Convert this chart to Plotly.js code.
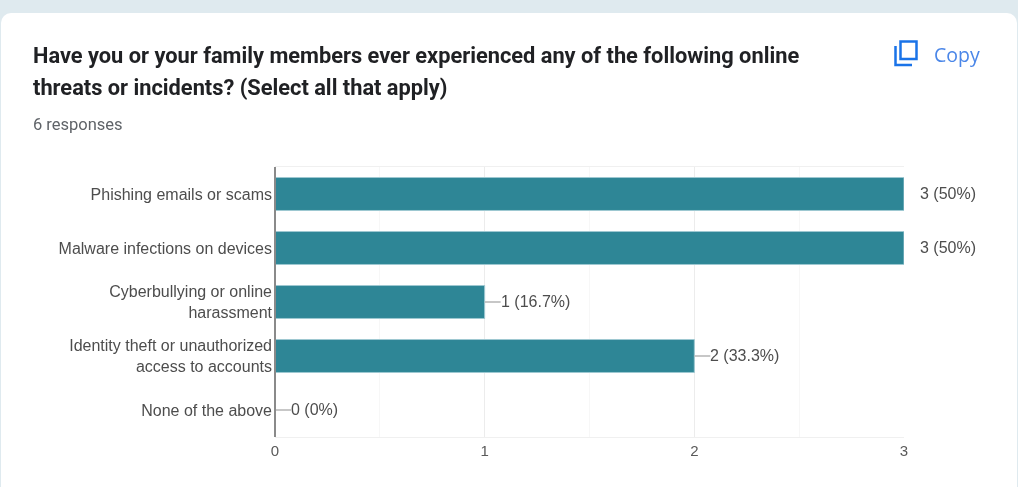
<!DOCTYPE html>
<html><head><meta charset="utf-8">
<script src="https://cdn.plot.ly/plotly-3.0.1.min.js"></script>
<style>
html,body{margin:0;padding:0;width:1018px;height:487px;overflow:hidden;background:#dfeaef}
#card{position:absolute;left:1px;top:13px;width:1016px;height:500px;background:#fff;border-radius:10px}
#chart{position:absolute;left:0;top:0;width:1018px;height:487px;filter:blur(0.5px)}
</style></head><body>
<div id="card"></div><div id="chart"></div>
<script>
const categories=["Phishing emails or scams","Malware infections on devices","Cyberbullying or online<br>harassment","Identity theft or unauthorized<br>access to accounts","None of the above"];
const counts=[3,3,1,2,0];
const percents=["50%","50%","16.7%","33.3%","0%"];
const titleLines=["Have you or your family members ever experienced any of the following online","threats or incidents? (Select all that apply)"];
const subtitle="6 responses";
const copyLabel="Copy";
const W=1018,H=487,L=275,R=904,T=167,B=437;
const px=x=>(x-L)/(R-L), py=y=>(B-y)/(B-T);
const pt=(x,y,text,size,color,family,weight)=>({xref:'paper',yref:'paper',x:px(x),y:py(y),xanchor:'left',yanchor:'middle',showarrow:false,text:text,font:{size:size,color:color,family:family,weight:weight||400}});
const tf="Roboto, sans-serif";
const lf="Liberation Sans, Arial, sans-serif";
const annotations=[
 pt(31,87,titleLines[1],21.8,'#202124',tf,700),
 pt(31,124,subtitle,16.5,'#5f6368',tf),
 pt(932,54,copyLabel,19.5,'#4a86e8',"'Open Sans', sans-serif")
];
counts.forEach((v,i)=>annotations.push({xref:'x',yref:'y',x:v,y:categories[i],xanchor:'left',yanchor:'middle',xshift:14,yshift:1,showarrow:false,text:v+" ("+percents[i]+")",font:{size:16,color:'#4d4d4d',family:lf}}));
const shapes=counts.map((v,i)=>({type:'line',xref:'x',yref:'y',xsizemode:'pixel',xanchor:v,x0:0,x1:16,y0:categories[i],y1:categories[i],line:{color:'#b5b5b5',width:1.5},layer:'above'}));
shapes.push({type:'line',xref:'paper',yref:'paper',x0:0,x1:0,y0:0,y1:1,line:{color:'#8a8a8a',width:2},layer:'above'});
shapes.push({type:'rect',xref:'paper',yref:'paper',x0:px(900.5),x1:px(916.5),y0:py(59),y1:py(41.5),line:{color:'#1a73e8',width:2.5}});
shapes.push({type:'path',xref:'paper',yref:'paper',path:'M'+px(895.5)+','+py(46)+' L'+px(895.5)+','+py(65)+' L'+px(912)+','+py(65),line:{color:'#1a73e8',width:2.5}});
const trace={type:'bar',orientation:'h',x:counts,y:categories,width:0.61,marker:{color:'#2e8696',line:{color:'#9fc9d2',width:1}},hoverinfo:'x+y'};
const layout={
 width:W,height:H,autosize:false,showlegend:false,
 margin:{l:L,r:W-R,t:T,b:H-B,pad:0},
 paper_bgcolor:'rgba(0,0,0,0)',plot_bgcolor:'rgba(0,0,0,0)',
 title:{text:titleLines[0],x:33/W,xanchor:'left',y:1-55/H,yanchor:'middle',font:{size:21.8,color:'#202124',family:tf,weight:700}},
 xaxis:{range:[0,3],dtick:1,tick0:0,showgrid:true,gridcolor:'#ececec',gridwidth:1,zeroline:false,showline:true,mirror:true,linecolor:'#f0f0f0',linewidth:1,ticks:'',tickfont:{size:15,color:'#5a5a5a',family:lf},minor:{dtick:0.5,showgrid:true,gridcolor:'#f7f7f7',gridwidth:1,ticks:''}},
 yaxis:{type:'category',categoryorder:'array',categoryarray:categories,range:[4.5,-0.5],showgrid:false,zeroline:false,showline:false,ticks:'',ticklabelstandoff:2,tickfont:{size:16,color:'#4d4d4d',family:lf}},
 annotations:annotations,shapes:shapes
};
Plotly.newPlot('chart',[trace],layout,{displayModeBar:false,responsive:false});
</script></body></html>
